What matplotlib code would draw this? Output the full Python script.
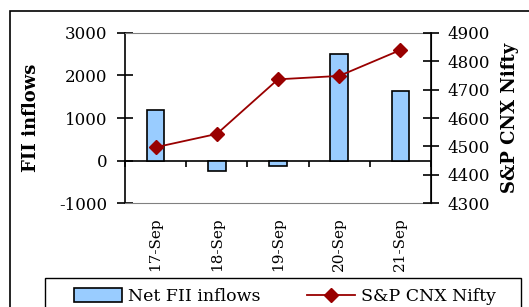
import matplotlib
matplotlib.use('Agg')
import matplotlib.pyplot as plt
from matplotlib.patches import Rectangle
import numpy as np

# data
dates = ['17-Sep', '18-Sep', '19-Sep', '20-Sep', '21-Sep']
fii_inflows = [1180, -245, -115, 2490, 1635]
nifty = [4497, 4544, 4736, 4748, 4839]

plt.rcParams['font.family'] = ['DejaVu Serif']
plt.rcParams['font.size'] = 12
plt.rcParams['axes.unicode_minus'] = False

fig = plt.figure(figsize=(5.29, 3.07), dpi=100)
# outer chart border (runs off the right and bottom like the original)
fig.patches.append(Rectangle((10/529, -0.1), 1.0, 1 - 11/307 + 0.1,
                             transform=fig.transFigure, fill=False,
                             edgecolor='black', linewidth=1.2))
# legend box, also cut off at the bottom
fig.patches.append(Rectangle((45/529, -0.1), 476/529, 1 - 278/307 + 0.1,
                             transform=fig.transFigure, fill=False,
                             edgecolor='black', linewidth=1.0))

ax = fig.add_axes([125/529, 1 - 203.3/307, 306/529, 170.6/307])
x = np.arange(len(dates))

ax.bar(x, fii_inflows, width=0.29, color='#99CCFF', edgecolor='black',
       linewidth=1.2, zorder=2)
ax.set_xlim(-0.5, len(dates) - 0.5)
ax.set_ylim(-1000, 3000)
ax.set_yticks([-1000, 0, 1000, 2000, 3000])
ax.set_xticks(x)
ax.set_xticklabels(dates, rotation=90, fontsize=11)
ax.tick_params(axis='x', length=0, pad=10)
ax.tick_params(axis='y', direction='inout', length=11.5, width=1.2, pad=7, labelsize=12)
ax.set_ylabel('FII inflows', fontweight='bold', fontsize=13, labelpad=14)
for s in ['top', 'bottom']:
    ax.spines[s].set_color('#808080')
ax.spines['left'].set_linewidth(1.2)

# category axis crossing at zero
zx = ax.secondary_xaxis(0.25)
zx.set_xticks(np.arange(len(dates) + 1) - 0.5)
zx.set_xticklabels([])
zx.tick_params(direction='out', length=4, width=1.2)
zx.spines['bottom'].set_linewidth(1.2)

ax2 = ax.twinx()
ax2.plot(x, nifty, color='#990000', marker='D', markersize=7, linewidth=1.3)
ax2.set_ylim(4300, 4900)
ax2.set_yticks(range(4300, 5000, 100))
ax2.tick_params(axis='y', direction='inout', length=11.5, width=1.2, pad=6, labelsize=12)
ax2.set_ylabel('S&P CNX Nifty', fontweight='bold', fontsize=13, labelpad=8)
for s in ['top', 'bottom', 'left']:
    ax2.spines[s].set_visible(False)
ax2.spines['right'].set_linewidth(1.2)

leg = fig.legend([ax.patches[0], ax2.lines[0]], ['Net FII inflows', 'S&P CNX Nifty'],
                 loc='upper left', bbox_to_anchor=(74/529, 1 - 288/307),
                 ncol=2, frameon=False,
                 fontsize=12.5, handlelength=2.75, handleheight=0.9,
                 columnspacing=2.7, handletextpad=0.35, borderpad=0,
                 borderaxespad=0)

fig.savefig('out.png', dpi=100)
